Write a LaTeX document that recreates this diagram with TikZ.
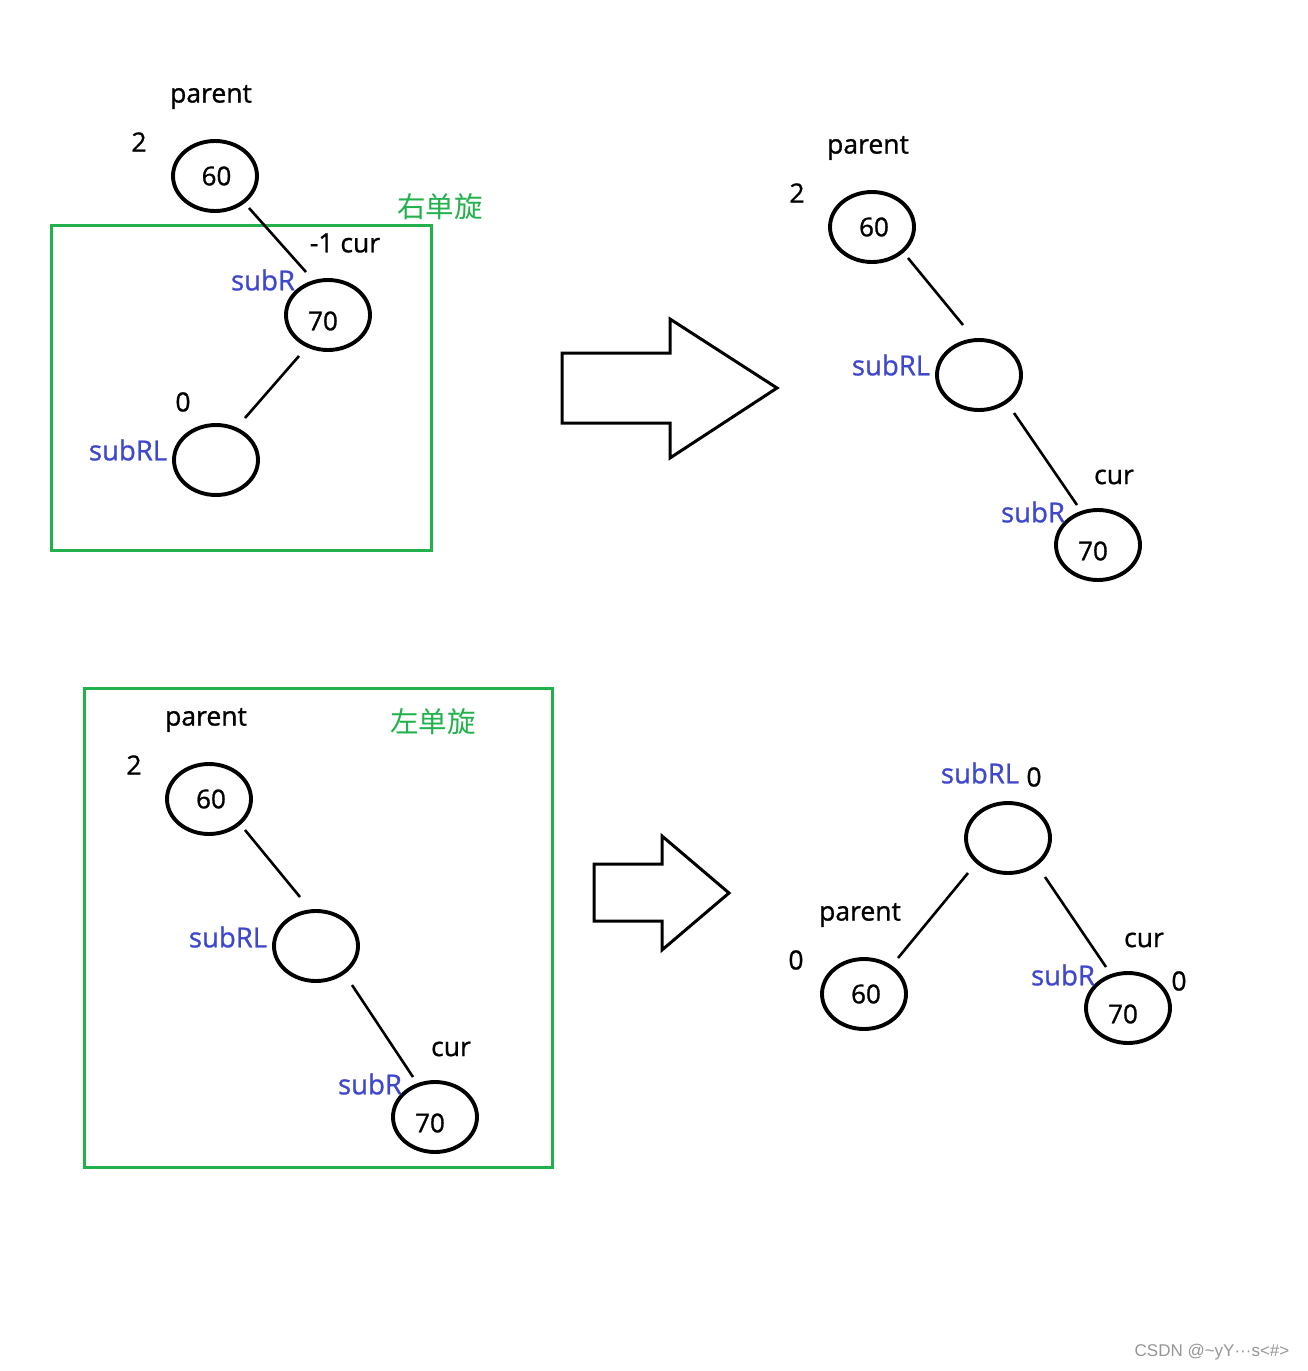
\documentclass[tikz,border=0pt]{standalone}
\usepackage{fontspec}
\setmainfont{Open Sans}[RawFeature={embolden=1}]
\newfontfamily\cjk{Noto Sans CJK SC}
\newfontfamily\wm{Liberation Sans}
\usetikzlibrary{shapes.geometric,calc}
\definecolor{pgreen}{RGB}{34,177,76}
\definecolor{pblue}{RGB}{63,72,204}
\definecolor{wmgray}{RGB}{150,150,150}
\newcommand{\lowtxt}[1]{\raisebox{-6pt}[\height][\depth]{#1}}
\begin{document}
\begin{tikzpicture}[x=1pt,y=-1pt,
  tnode/.style={draw,ellipse,line width=3.9pt,minimum width=84pt,minimum height=70pt,inner sep=0pt,font=\fontsize{26}{26}\selectfont},
  lbl/.style={inner sep=0pt,font=\fontsize{26.5}{26.5}\selectfont},
  blbl/.style={inner sep=0pt,text=pblue,font=\fontsize{27.5}{27.5}\selectfont},
  glbl/.style={inner sep=0pt,text=pgreen,font=\cjk\fontsize{28.5}{28.5}\selectfont},
  edge/.style={line width=2.6pt},
  gbox/.style={draw=pgreen,line width=3pt},
  bigarrow/.style={draw,line width=3pt,line join=miter}]
\useasboundingbox[fill=white] (0,0) rectangle (1307,1371);

% ---------- top-left ----------
\draw[gbox] (51,225) rectangle (431,550);
\node[glbl] (t1) at (440,207) {右单旋};
\node[tnode] (a60) at (215,176) {\hspace*{3pt}60};
\node[tnode] (a70) at (328,315) {\hspace*{-10pt}\lowtxt{70}};
\node[tnode] (arl) at (216,460) {};
\node[lbl] (apar) at (211,97) {parent};
\node[lbl] (a2) at (139,142) {2};
\node[lbl] (acur) at (345,243) {-1 cur};
\node[blbl] (asubr) at (263,280) {subR};
\node[lbl] (a0) at (183,402) {0};
\node[blbl] (asubrl) at (128,450) {subRL};
\draw[edge] ($(a60.center)+(34,32)$) -- ($(a70.center)+(-22,-43)$);
\draw[edge] ($(a70.center)+(-29,41)$) -- ($(arl.center)+(29,-42)$);

% ---------- arrow 1 ----------
\draw[bigarrow] (562,353) -- (670,353) -- (670,319) -- (777,388) -- (670,458) -- (670,423) -- (562,423) -- cycle;

% ---------- top-right ----------
\node[tnode] (b60) at (872,227) {\hspace*{4pt}60};
\node[tnode] (brl) at (979,375) {};
\node[tnode] (b70) at (1098,545) {\hspace*{-10pt}\lowtxt{70}};
\node[lbl] (bpar) at (868,148) {parent};
\node[lbl] (b2) at (797,193) {2};
\node[blbl] (bsubrl) at (891,365) {subRL};
\node[lbl] (bcur) at (1114,477) {cur};
\node[blbl] (bsubr) at (1033,512) {subR};
\draw[edge] ($(b60.center)+(36,31)$) -- ($(brl.center)+(-16,-50)$);
\draw[edge] ($(brl.center)+(35,38)$) -- ($(b70.center)+(-21,-40)$);

% ---------- bottom-left ----------
\draw[gbox] (84,688) rectangle (552,1167);
\node[glbl] (t2) at (433,722) {左单旋};
\node[tnode] (c60) at (209,799) {\hspace*{4pt}60};
\node[tnode] (crl) at (316,946) {};
\node[tnode] (c70) at (435,1117) {\hspace*{-10pt}\lowtxt{70}};
\node[lbl] (cpar) at (206,720) {parent};
\node[lbl] (c2) at (134,765) {2};
\node[blbl] (csubrl) at (228,937) {subRL};
\node[lbl] (ccur) at (451,1049) {cur};
\node[blbl] (csubr) at (370,1084) {subR};
\draw[edge] ($(c60.center)+(36,31)$) -- ($(crl.center)+(-16,-49)$);
\draw[edge] ($(crl.center)+(36,39)$) -- ($(c70.center)+(-22,-40)$);

% ---------- arrow 2 ----------
\draw[bigarrow] (594,864) -- (662,864) -- (662,836) -- (729,893) -- (662,950) -- (662,921) -- (594,921) -- cycle;

% ---------- bottom-right ----------
\node[tnode] (drl) at (1008,838) {};
\node[tnode] (d60) at (864,994) {\hspace*{4pt}60};
\node[tnode] (d70) at (1128,1008) {\hspace*{-10pt}\lowtxt{70}};
\node[blbl] (dsubrl) at (980,773) {subRL};
\node[lbl] (d0a) at (1034,777) {0};
\node[lbl] (dpar) at (860,915) {parent};
\node[lbl] (d0b) at (796,960) {0};
\node[lbl] (dcur) at (1144,940) {cur};
\node[blbl] (dsubr) at (1063,975) {subR};
\node[lbl] (d0c) at (1179,981) {0};
\draw[edge] ($(drl.center)+(-40,35)$) -- ($(d60.center)+(34,-36)$);
\draw[edge] ($(drl.center)+(37,39)$) -- ($(d70.center)+(-22,-41)$);

% ---------- watermark ----------
\node[inner sep=0pt,text=wmgray,font=\wm\fontsize{17}{17}\selectfont] (wm) at (1212,1352) {CSDN @\string~yY\textperiodcentered\textperiodcentered\textperiodcentered s<\#>};
\end{tikzpicture}
\end{document}
